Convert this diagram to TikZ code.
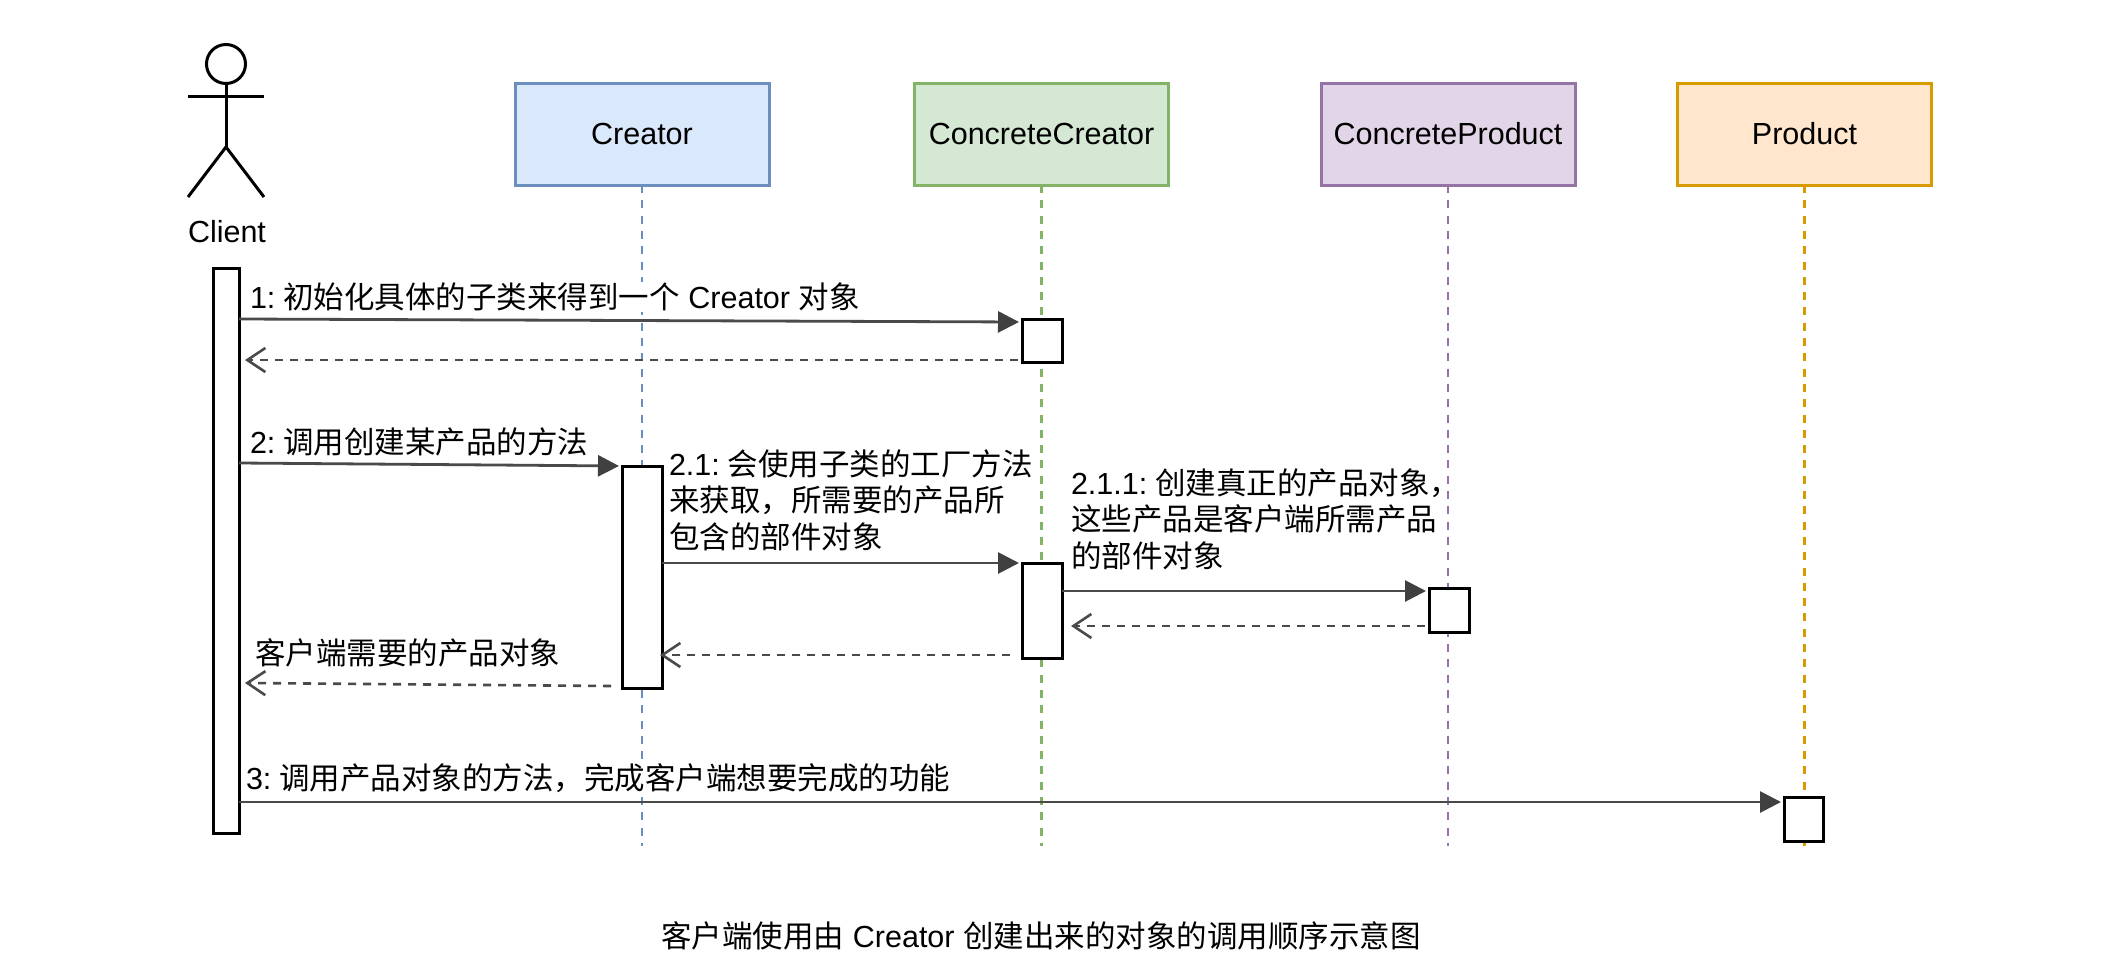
\documentclass[tikz,border=0pt]{standalone}
\usepackage{fontspec}
\setmainfont{Liberation Sans}
\newfontfamily\cjkfam{Noto Sans CJK SC}
\newcommand{\Z}[1]{{\cjkfam #1}}
\newcommand{\gapsp}{\hspace{8pt}}
\usetikzlibrary{arrows.meta}
\definecolor{linkc}{HTML}{4A4A4A}
\definecolor{tipc}{HTML}{404040}
\definecolor{bA}{HTML}{6C8EBF}\definecolor{fA}{HTML}{DAE8FC}
\definecolor{bB}{HTML}{82B366}\definecolor{fB}{HTML}{D5E8D4}
\definecolor{bC}{HTML}{9673A6}\definecolor{fC}{HTML}{E1D5E7}
\definecolor{bD}{HTML}{D79B00}\definecolor{fD}{HTML}{FFE6CC}
\tikzset{
  every node/.style={font=\fontsize{30.5}{36.5}\selectfont, outer sep=0pt},
  lifebox/.style={draw=#1, line width=3pt, minimum width=254pt, minimum height=102pt, inner sep=0pt},
  actbox/.style={draw=black, fill=white, line width=3pt, inner sep=0pt, anchor=north west},
  lifeln/.style={draw=#1, line width=2.7pt, dash pattern=on 8pt off 7.3pt},
  msg/.style={draw=linkc, line width=2.8pt, -{Triangle[length=21pt,width=21pt,fill=tipc,color=tipc]}, shorten >=3pt},
  ret/.style={draw=linkc, line width=2.6pt, dash pattern=on 8pt off 7pt, -{Straight Barb[length=18pt,width=24pt,line width=2.6pt,color=linkc]}},
  lbl/.style={anchor=west, align=left, inner sep=1pt},
  lblw/.style={lbl, fill=white},
  stick/.style={draw=black, line width=3pt}
}
\begin{document}
\begin{tikzpicture}[x=1pt,y=-1pt]
\useasboundingbox (0,0) rectangle (2117,974);
\fill[white] (0,0) rectangle (2117,974);

% lifeline heads
\node[lifebox=bA, fill=fA] (creator) at (642,134) {Creator};
\node[lifebox=bB, fill=fB] (ccreator) at (1041.5,134) {ConcreteCreator};
\node[lifebox=bC, fill=fC] (cproduct) at (1448,134) {ConcreteProduct};
\node[lifebox=bD, fill=fD] (product) at (1804.5,134) {Product};

% lifeline ends
\coordinate (creatorEnd) at (642,846);
\coordinate (ccreatorEnd) at (1041.5,846);
\coordinate (cproductEnd) at (1448,846);
\coordinate (productEnd) at (1804.5,846);
\draw[lifeln=bA] (creator.south) -- (creatorEnd);
\draw[lifeln=bB] (ccreator.south) -- (ccreatorEnd);
\draw[lifeln=bC] (cproduct.south) -- (cproductEnd);
\draw[lifeln=bD] (product.south) -- (productEnd);

% actor
\node[circle, draw=black, line width=3pt, minimum size=39pt, inner sep=0pt] (head) at (226,64) {};
\coordinate (hip) at (226,147);
\coordinate (armL) at (188,96);
\coordinate (armR) at (264,96);
\coordinate (footL) at (188,197);
\coordinate (footR) at (264,197);
\draw[stick] (head.south) -- (hip);
\draw[stick] (armL) -- (armR);
\draw[stick] (footL) -- (hip) -- (footR);
\node (client) at (227,232) {Client};

% labels
\node[lblw] (l1) at (249,297) {1:\gapsp\Z{初始化具体的子类来得到一个} Creator \Z{对象}};
\node[lbl] (l2) at (249,442) {2:\gapsp\Z{调用创建某产品的方法}};
\node[lbl] (l21) at (668,500) {2.1:\gapsp\Z{会使用子类的工厂方法}\\\Z{来获取，所需要的产品所}\\\Z{包含的部件对象}};
\node[lbl] (l211) at (1070,519) {2.1.1:\gapsp\Z{创建真正的产品对象，}\\\Z{这些产品是客户端所需产品}\\\Z{的部件对象}};
\node[lbl] (lr) at (254,653) {\Z{客户端需要的产品对象}};
\node[lblw] (l3) at (245,778) {3:\gapsp\Z{调用产品对象的方法，完成客户端想要完成的功能}};
\node (caption) at (1041,936) {\Z{客户端使用由} Creator \Z{创建出来的对象的调用顺序示意图}};

% activations
\node[actbox, minimum width=26pt, minimum height=565pt] (a0) at (213,268) {};
\node[actbox, minimum width=40pt, minimum height=43pt] (a1) at (1022,319) {};
\node[actbox, minimum width=40pt, minimum height=222pt] (a2) at (622,466) {};
\node[actbox, minimum width=40pt, minimum height=95pt] (a3) at (1022,563) {};
\node[actbox, minimum width=40pt, minimum height=44pt] (a4) at (1429,588) {};
\node[actbox, minimum width=39pt, minimum height=44pt] (a5) at (1784,797) {};

% messages
\draw[msg] ([yshift=-51pt]a0.north east) -- ([yshift=-3pt]a1.north west);
\draw[ret] ([xshift=-4pt,yshift=-41pt]a1.north west) -- ([xshift=6pt,yshift=-92pt]a0.north east);
\draw[msg] ([yshift=-195pt]a0.north east) -- (a2.north west);
\draw[msg] ([yshift=-97pt]a2.north east) -- (a3.north west);
\draw[msg] ([yshift=-28pt]a3.north east) -- ([yshift=-3pt]a4.north west);
\draw[ret] ([xshift=-4pt,yshift=-38pt]a4.north west) -- ([xshift=9pt,yshift=-63pt]a3.north east);
\draw[ret] ([xshift=-12pt,yshift=-92pt]a3.north west) -- ([xshift=-2pt,yshift=-189pt]a2.north east);
\draw[ret] ([xshift=-11pt,yshift=-220pt]a2.north west) -- ([xshift=6pt,yshift=-415pt]a0.north east);
\draw[msg] ([yshift=-534pt]a0.north east) -- ([yshift=-5pt]a5.north west);
\end{tikzpicture}
\end{document}
